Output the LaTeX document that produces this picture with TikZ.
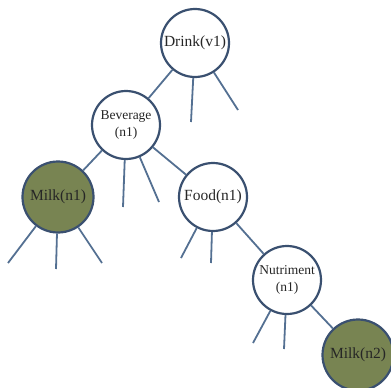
\documentclass[tikz,border=0pt]{standalone}
\usepackage{fontspec}
\setmainfont{Liberation Serif}
\definecolor{edgeblue}{RGB}{84,112,146}
\definecolor{rimblue}{RGB}{58,80,112}
\definecolor{olive}{RGB}{120,132,82}
\begin{document}
\begin{tikzpicture}
    [
      x=1pt, y=-1pt,
      sense/.style=
      {
        circle,
        draw=rimblue,
        line width=2.2pt,
        fill=white,
        inner sep=0pt,
        minimum size=68pt,
        align=center,
        text=black!85,
        font=\fontsize{15.5}{17}\selectfont
      },
      small/.style=
      {
        font=\fontsize{13.5}{17}\selectfont
      },
      hit/.style=
      {
        sense,
        fill=olive,
        minimum size=71pt
      },
      branch/.style=
      {
        draw=edgeblue,
        line width=1.8pt
      }
    ]
    \useasboundingbox (0,0) rectangle (391,388);
    % stub ends
    \coordinate (DrinkS1) at (191,122);
    \coordinate (DrinkS2) at (238,110);
    \coordinate (BevS1) at (123,207);
    \coordinate (BevS2) at (159,202);
    \coordinate (MilkaS1) at (8,263);
    \coordinate (MilkaS2) at (56,269);
    \coordinate (MilkaS3) at (102,263);
    \coordinate (FoodS1) at (181,258);
    \coordinate (FoodS2) at (211,263);
    \coordinate (NutS1) at (253,343);
    \coordinate (NutS2) at (284,349);
    % senses
    \node[sense](Drink) at (195,43) {Drink(v1)};
    \node[sense, small](Beverage) at (126,125) {Beverage\\(n1)};
    \node[hit](MilkA) at (58,197) {Milk(n1)};
    \node[sense](Food) at (213,197) {Food(n1)};
    \node[sense, small](Nutriment) at (287,280) {Nutriment\\(n1)};
    \node[hit](MilkB) at (358,355) {Milk(n2)};
    % branches
    \draw[branch] (Drink) -- (Beverage);
    \draw[branch] (Drink) -- (DrinkS1);
    \draw[branch] (Drink) -- (DrinkS2);
    \draw[branch] (Beverage) -- (MilkA);
    \draw[branch] (Beverage) -- (BevS1);
    \draw[branch] (Beverage) -- (BevS2);
    \draw[branch] (Beverage) -- (Food);
    \draw[branch] (MilkA) -- (MilkaS1);
    \draw[branch] (MilkA) -- (MilkaS2);
    \draw[branch] (MilkA) -- (MilkaS3);
    \draw[branch] (Food) -- (FoodS1);
    \draw[branch] (Food) -- (FoodS2);
    \draw[branch] (Food) -- (Nutriment);
    \draw[branch] (Nutriment) -- (NutS1);
    \draw[branch] (Nutriment) -- (NutS2);
    \draw[branch] (Nutriment) -- (MilkB);
  \end{tikzpicture}
\end{document}
